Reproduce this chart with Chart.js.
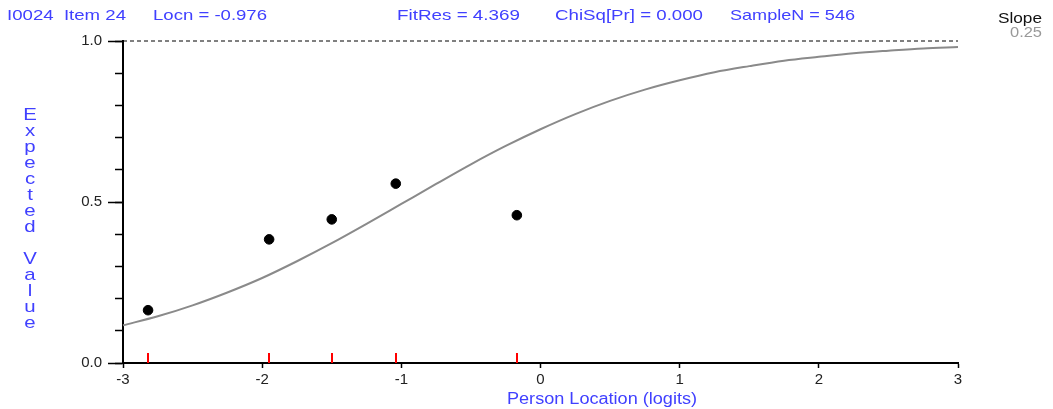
<!DOCTYPE html>
<html>
<head>
<meta charset="utf-8">
<script src="https://cdn.jsdelivr.net/npm/chart.js@4"></script>
<style>
  html, body { margin: 0; padding: 0; background: #fff; }
  #icc { display: block; }
</style>
</head>
<body>
<canvas id="icc" width="1053" height="409"></canvas>
<script>
// Item characteristic curve for I0024: expected value curve, observed class
// means (black dots) and class-interval locations (red marks on the axis).

const curveLoc = [-3, -2.75, -2.5, -2.25, -2, -1.75, -1.5, -1.25, -1, -0.75, -0.5, -0.25,
                  0, 0.25, 0.5, 0.75, 1, 1.25, 1.5, 1.75, 2, 2.25, 2.5, 2.75, 3];
const curveExp = [0.117, 0.145, 0.179, 0.219, 0.264, 0.316, 0.372, 0.432, 0.494, 0.556, 0.617, 0.674,
                  0.726, 0.773, 0.814, 0.849, 0.878, 0.903, 0.922, 0.939, 0.951, 0.962, 0.970, 0.977, 0.981];
const classLoc = [-2.82, -1.95, -1.50, -1.04, -0.17];
const classObs = [0.164, 0.384, 0.446, 0.557, 0.459];
const upperLoc = [-3, 3];
const upperVal = [1.0, 1.0];

const header = [
  { text: "I0024  Item 24", x: 7, w: 119 },
  { text: "Locn = -0.976", x: 153, w: 114 },
  { text: "FitRes = 4.369", x: 397, w: 123 },
  { text: "ChiSq[Pr] = 0.000", x: 555, w: 148 },
  { text: "SampleN = 546", x: 730, w: 125 },
];
const yTitle = "Expected Value";
const xTitle = "Person Location (logits)";
const slopeLabel = "Slope";
const slopeValue = "0.25";

const FONT = '"Liberation Sans", Arial, sans-serif';
const BLUE = "#4040ff";

// draws text squeezed/stretched to a given width (the original is wide-set)
function wideText(ctx, text, x, y, width, size, color) {
  ctx.save();
  ctx.font = size + "px " + FONT;
  ctx.fillStyle = color;
  ctx.textAlign = "left";
  ctx.textBaseline = "alphabetic";
  const sx = width / ctx.measureText(text).width;
  ctx.translate(x, y);
  ctx.scale(sx, 1);
  ctx.fillText(text, 0, 0);
  ctx.restore();
}

// red class-interval mark: only the upper half is painted so it sits on the axis
const classMark = document.createElement("canvas");
classMark.width = 2; classMark.height = 20;
const cm = classMark.getContext("2d");
cm.fillStyle = "#ff0000";
cm.fillRect(0, 0, 2, 10);

const labels = {
  id: "labels",
  afterDraw(chart) {
    const ctx = chart.ctx;
    header.forEach((h) => wideText(ctx, h.text, h.x, 20, h.w, 15, BLUE));
    wideText(ctx, slopeLabel, 998, 23, 44, 14, "#111");
    wideText(ctx, slopeValue, 1010, 37, 32, 14, "#999");
    wideText(ctx, xTitle, 507, 404, 190, 16, BLUE);

    // stacked vertical y title
    ctx.save();
    ctx.font = "17px " + FONT;
    ctx.fillStyle = BLUE;
    ctx.textAlign = "center";
    ctx.textBaseline = "alphabetic";
    yTitle.split("").forEach((ch, i) => {
      if (ch !== " ") {
        ctx.save();
        ctx.translate(30, 120 + i * 16);
        ctx.scale(1.2, 1);
        ctx.fillText(ch, 0, 0);
        ctx.restore();
      }
    });
    ctx.restore();
  },
};

const pts = (xs, ys) => xs.map((x, i) => ({ x, y: ys[i] }));

new Chart(document.getElementById("icc"), {
  type: "scatter",
  data: {
    datasets: [
      {
        data: pts(upperLoc, upperVal), showLine: true,
        borderColor: "#000", borderWidth: 1, borderDash: [4, 3],
        pointRadius: 0, clip: false,
      },
      {
        data: pts(curveLoc, curveExp), showLine: true,
        borderColor: "#8a8a8a", borderWidth: 2, cubicInterpolationMode: "monotone",
        pointRadius: 0, clip: false,
      },
      {
        data: pts(classLoc, classObs),
        backgroundColor: "#000", borderColor: "#000",
        pointRadius: 4.8, pointStyle: "circle", clip: false,
      },
      {
        data: pts(classLoc, classLoc.map(() => 0)),
        pointStyle: classMark, pointRadius: 5, clip: false,
      },
    ],
  },
  options: {
    responsive: false,
    animation: false,
    layout: { padding: { top: 41, right: 95, left: 0, bottom: 0 } },
    plugins: { legend: { display: false }, tooltip: { enabled: false } },
    scales: {
      x: {
        type: "linear", position: "bottom", min: -3, max: 3,
        afterFit: (s) => { s.height = 46; },
        ticks: { stepSize: 1, color: "#222", font: { size: 15, family: FONT }, padding: 3 },
        grid: { drawOnChartArea: false, tickLength: 5, tickColor: "#000", tickWidth: 1.5 },
        border: { color: "#000", width: 2 },
      },
      y: {
        type: "linear", position: "left", min: 0, max: 1, weight: 0,
        afterFit: (s) => { s.width = 0; },
        ticks: { stepSize: 0.1, display: false },
        grid: { drawOnChartArea: false, tickLength: 8, tickColor: "#000", tickWidth: 1.5 },
        border: { color: "#000", width: 2 },
      },
      yMajor: {
        type: "linear", position: "left", min: 0, max: 1, weight: 1,
        afterFit: (s) => { s.width = 123; },
        ticks: {
          stepSize: 0.5, color: "#222", font: { size: 15, family: FONT }, padding: 6,
          callback: (v) => v.toFixed(1),
        },
        grid: { drawOnChartArea: false, tickLength: 15, tickColor: "#000", tickWidth: 1.5 },
        border: { display: false },
      },
    },
  },
  plugins: [labels],
});
</script>
</body>
</html>
